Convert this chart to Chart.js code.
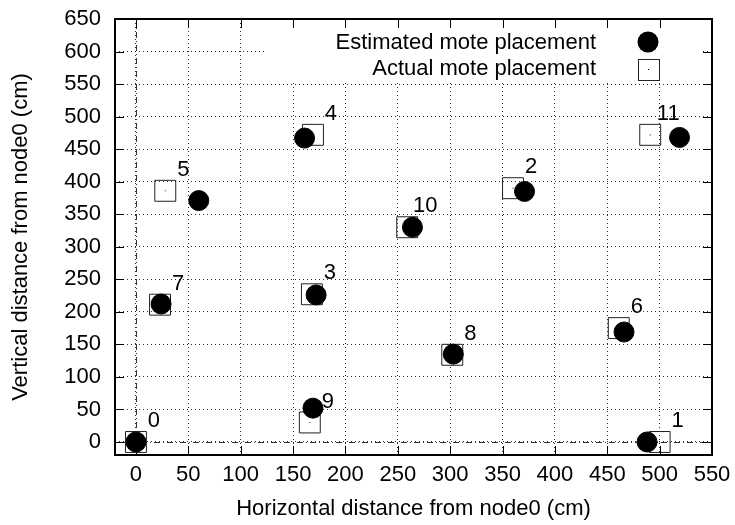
<!DOCTYPE html>
<html>
<head>
<meta charset="utf-8">
<title>Mote placement</title>
<script src="https://cdn.jsdelivr.net/npm/chart.js@4/dist/chart.umd.min.js"></script>
<style>
  html, body { margin: 0; padding: 0; background: #fff; }
  #wrap { width: 735px; height: 525px; }
</style>
</head>
<body>
<div id="wrap"><canvas id="moteChart" width="735" height="525"></canvas></div>
<script>
// node ids and positions (cm)
const nodeIds = ["0", "1", "2", "3", "4", "5", "6", "7", "8", "9", "10", "11"];
const actualX = [0, 500, 360, 168, 169, 28, 461, 23, 302, 166, 259, 491];
const actualY = [0, 0, 390, 227, 472, 386, 175, 211, 134, 30, 330, 472];
const estX = [0, 488, 371, 172, 161, 60, 466, 24, 303, 169, 264, 519];
const estY = [0, 0, 385, 226, 467, 371, 169, 212, 135, 52, 330, 468];

const xTicks = [0, 50, 100, 150, 200, 250, 300, 350, 400, 450, 500, 550];
const yTicks = [0, 50, 100, 150, 200, 250, 300, 350, 400, 450, 500, 550, 600, 650];

const legendLabels = ["Estimated mote placement", "Actual mote placement"];

const FONT = "'Liberation Sans', Arial, sans-serif";
const FONT_SIZE = 22;

const toPoints = (xs, ys) => xs.map((x, i) => ({ x: x, y: ys[i] }));

// zero axes + legend box go under the points, frame/ticks/labels on top
const decorations = {
  id: "decorations",
  beforeDatasetsDraw(chart) {
    const { ctx, chartArea: a, scales } = chart;
    const x0 = scales.x.getPixelForValue(0);
    const y0 = scales.y.getPixelForValue(0);

    ctx.save();
    ctx.strokeStyle = "#333";
    ctx.lineWidth = 1;
    ctx.setLineDash([6, 3, 1, 3]);
    ctx.beginPath();
    ctx.moveTo(Math.round(x0) + 0.5, a.top);
    ctx.lineTo(Math.round(x0) + 0.5, a.bottom);
    ctx.moveTo(a.left, Math.round(y0) + 0.5);
    ctx.lineTo(a.right, Math.round(y0) + 0.5);
    ctx.stroke();
    ctx.restore();

    // legend (opaque box, like gnuplot's key)
    ctx.save();
    ctx.fillStyle = "#fff";
    ctx.fillRect(265, a.top + 1, a.right - 12 - 265, 61);
    ctx.fillStyle = "#000";
    ctx.font = FONT_SIZE + "px " + FONT;
    ctx.textAlign = "right";
    ctx.textBaseline = "middle";
    const keyX = a.right - 64;
    legendLabels.forEach((label, i) => {
      ctx.fillText(label, a.right - 116, a.top + 24 + i * 26);
    });
    ctx.beginPath();
    ctx.arc(keyX, a.top + 23, 10.5, 0, Math.PI * 2);
    ctx.fill();
    ctx.strokeStyle = "#222";
    ctx.lineWidth = 1;
    ctx.strokeRect(Math.round(keyX - 10) + 0.5, Math.round(a.top + 50 - 10) + 0.5, 21, 21);
    ctx.fillRect(Math.round(keyX), Math.round(a.top + 50), 1, 1);
    ctx.restore();
  },
  afterDatasetsDraw(chart) {
    const { ctx, chartArea: a, scales } = chart;

    ctx.save();
    ctx.strokeStyle = "#000";
    ctx.lineWidth = 1;
    ctx.beginPath();
    xTicks.forEach((v) => {
      const px = Math.round(scales.x.getPixelForValue(v)) + 0.5;
      ctx.moveTo(px, a.bottom);
      ctx.lineTo(px, a.bottom - 9);
      ctx.moveTo(px, a.top);
      ctx.lineTo(px, a.top + 9);
    });
    yTicks.forEach((v) => {
      const py = Math.round(scales.y.getPixelForValue(v)) + 0.5;
      ctx.moveTo(a.left, py);
      ctx.lineTo(a.left + 9, py);
      ctx.moveTo(a.right, py);
      ctx.lineTo(a.right - 9, py);
    });
    ctx.stroke();

    ctx.lineWidth = 2;
    ctx.strokeRect(a.left, a.top, a.right - a.left, a.bottom - a.top);

    ctx.fillStyle = "#000";
    ctx.font = FONT_SIZE + "px " + FONT;
    ctx.textAlign = "center";
    ctx.textBaseline = "middle";
    nodeIds.forEach((id, i) => {
      const px = scales.x.getPixelForValue(actualX[i]);
      const py = scales.y.getPixelForValue(actualY[i]);
      ctx.fillText(id, px + 18, py - 21);
    });
    ctx.restore();
  },
};

const gridStyle = {
  color: "rgba(0,0,0,0.8)",
  lineWidth: 1,
  drawTicks: false,
};

const chart = new Chart(document.getElementById("moteChart"), {
  type: "scatter",
  data: {
    datasets: [
      {
        label: legendLabels[0],
        data: toPoints(estX, estY),
        pointStyle: "circle",
        pointRadius: 10,
        pointBackgroundColor: "#000",
        pointBorderColor: "#000",
        pointBorderWidth: 1,
        order: 1,
      },
      {
        label: legendLabels[1],
        data: toPoints(actualX, actualY),
        pointStyle: "rect",
        pointRadius: 14.8,
        pointBackgroundColor: "rgba(0,0,0,0)",
        pointBorderColor: "#222",
        pointBorderWidth: 1,
        order: 2,
      },
      {
        label: "centre dots",
        data: toPoints(actualX, actualY),
        pointStyle: "rect",
        pointRadius: 0.8,
        pointBackgroundColor: "#444",
        pointBorderWidth: 0,
        order: 3,
      },
    ],
  },
  options: {
    responsive: false,
    animation: false,
    devicePixelRatio: 1,
    layout: {
      padding: { top: 19, right: 23, left: 0, bottom: 0 },
    },
    plugins: {
      legend: { display: false },
      tooltip: { enabled: false },
    },
    scales: {
      x: {
        type: "linear",
        min: -20,
        max: 550,
        afterBuildTicks: (axis) => {
          axis.ticks = xTicks.map((v) => ({ value: v }));
        },
        afterFit: (axis) => {
          axis.height = 70;
          axis.paddingLeft = 0;
          axis.paddingRight = 0;
        },
        grid: gridStyle,
        border: { display: false, dash: [1, 3] },
        ticks: {
          color: "#000",
          padding: 7,
          maxRotation: 0,
          autoSkip: false,
          font: { family: FONT, size: FONT_SIZE },
        },
        title: {
          display: true,
          text: "Horizontal distance from node0 (cm)",
          color: "#000",
          padding: { top: 0, bottom: 3 },
          font: { family: FONT, size: FONT_SIZE },
        },
      },
      y: {
        type: "linear",
        min: -20,
        max: 650,
        afterBuildTicks: (axis) => {
          axis.ticks = yTicks.map((v) => ({ value: v }));
        },
        afterFit: (axis) => {
          axis.width = 115;
          axis.paddingTop = 0;
          axis.paddingBottom = 0;
        },
        grid: gridStyle,
        border: { display: false, dash: [1, 3] },
        ticks: {
          color: "#000",
          padding: 14,
          autoSkip: false,
          font: { family: FONT, size: FONT_SIZE },
        },
        title: {
          display: true,
          text: "Vertical distance from node0 (cm)",
          color: "#000",
          padding: { top: 8, bottom: 0 },
          font: { family: FONT, size: FONT_SIZE },
        },
      },
    },
  },
  plugins: [decorations],
});
</script>
</body>
</html>
